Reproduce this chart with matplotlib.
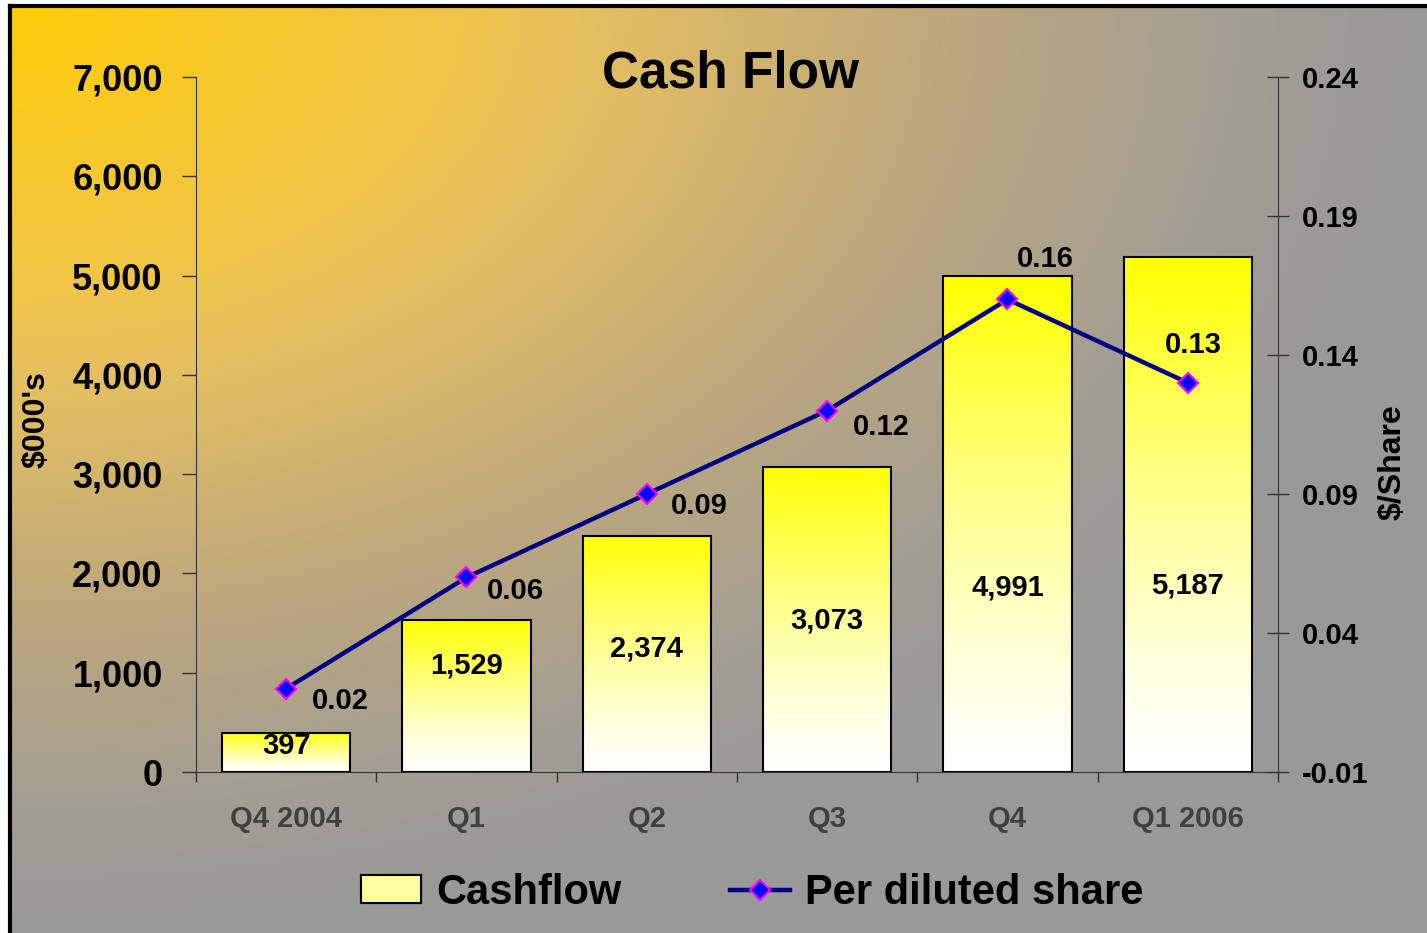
import numpy as np
import matplotlib
matplotlib.use("Agg")
import matplotlib.pyplot as plt
from matplotlib.colors import LinearSegmentedColormap
from matplotlib.patches import Rectangle
from matplotlib.lines import Line2D
from matplotlib.ticker import FuncFormatter

plt.rcParams['font.family'] = ['Liberation Sans', 'DejaVu Sans']
plt.rcParams['font.weight'] = 'bold'

# data
quarters = ['Q4 2004', 'Q1', 'Q2', 'Q3', 'Q4', 'Q1 2006']
cashflow = [397, 1529, 2374, 3073, 4991, 5187]
per_share = [0.02, 0.06, 0.09, 0.12, 0.16, 0.13]

# where the labels sit (bar labels in $000's, line labels as offsets in points)
bar_label_y = [262, 1068, 1239, 1521, 1863, 1883]
share_label_off = [(39, -9), (35, -10), (38, -9), (39, -12), (27, 29), (4, 27)]

W, H = 1427, 933
fig = plt.figure(figsize=(W / 100, H / 100), dpi=100)

# background: yellow in the top left corner fading to grey
bg_cmap = LinearSegmentedColormap.from_list('bg', [
    (0.00, (255/255, 205/255, 10/255)),
    (0.32, (240/255, 196/255, 75/255)),
    (0.40, (230/255, 192/255, 95/255)),
    (0.65, (190/255, 168/255, 125/255)),
    (0.87, (163/255, 158/255, 148/255)),
    (1.00, (153/255, 153/255, 153/255)),
])
gy, gx = np.mgrid[0:1:300j, 0:1:450j]
t = np.clip(np.sqrt(gx**2 + gy**2), 0, 1)
bg = fig.add_axes([0, 0, 1, 1], zorder=-10)
bg.set_axis_off()
bg.set_xlim(0, 1)
bg.set_ylim(0, 1)
x0 = 10 / W
y1 = 1 - 5.5 / H
bg.imshow(t, cmap=bg_cmap, vmin=0, vmax=1, extent=[x0, 1, 0, y1],
          origin='upper', aspect='auto', interpolation='bilinear')
bg.plot([x0, x0], [0, y1], color='black', lw=3, solid_capstyle='projecting')
bg.plot([x0, 1], [y1, y1], color='black', lw=3, solid_capstyle='projecting')

# bar gradient: yellow on top, white at the bottom
s = np.linspace(0, 1, 256)
blue = 1 - s**1.3
bar_grad = np.stack([np.ones_like(s), np.ones_like(s), blue], axis=1)[:, None, :]

ax = fig.add_axes([196 / W, 1 - 772 / H, (1278 - 196) / W, (772 - 77) / H])
ax.set_facecolor('none')
x = np.arange(len(quarters))
bars = ax.bar(x, cashflow, width=0.71, facecolor='none', edgecolor='black',
              lw=1.5, zorder=2)
for b in bars:
    im = ax.imshow(bar_grad, extent=[b.get_x(), b.get_x() + b.get_width(), 0, b.get_height()],
                   origin='lower', aspect='auto', zorder=1.5)
    im.set_clip_path(b)

for i, (v, ly) in enumerate(zip(cashflow, bar_label_y)):
    ax.text(x[i], ly, f'{v:,}', ha='center', va='center', fontsize=21,
            fontweight='bold', zorder=5)

ax.set_xlim(-0.5, len(quarters) - 0.5)
ax.set_ylim(0, 7000)
ax.set_yticks(np.arange(0, 7001, 1000))
ax.yaxis.set_major_formatter(FuncFormatter(lambda v, p: f'{v:,.0f}'))
ax.tick_params(axis='y', length=10, width=1, pad=14, labelsize=26, color='#333333')
ax.set_xticks(np.arange(-0.5, len(quarters), 1))
ax.set_xticklabels([])
ax.tick_params(axis='x', which='major', length=7, width=1, color='#333333')
ax.set_xticks(x, minor=True)
ax.set_xticklabels(quarters, minor=True)
ax.tick_params(axis='x', which='minor', length=0, pad=24, labelsize=21,
               labelcolor='#404040')
for side in ['top', 'right']:
    ax.spines[side].set_visible(False)
for side in ['left', 'bottom']:
    ax.spines[side].set_color('#333333')

ax2 = ax.twinx()
ax2.plot(x, per_share, color='#000080', lw=3.2, marker='D', ms=10,
         mfc='#0000FF', mec='#FF00FF', mew=1.5, zorder=4)
for i, (v, off) in enumerate(zip(per_share, share_label_off)):
    ax2.annotate(f'{v:.2f}', (x[i], v), xytext=off, textcoords='offset points',
                 ha='center', va='center', fontsize=21, fontweight='bold')
ax2.set_ylim(-0.01, 0.24)
ax2.set_yticks(np.arange(-0.01, 0.2401, 0.05))
ax2.yaxis.set_major_formatter(FuncFormatter(lambda v, p: f'{v:.2f}'))
ax2.tick_params(axis='y', direction='inout', length=16, width=1, pad=9,
                labelsize=21, color='#333333')
for side in ['top', 'left', 'bottom']:
    ax2.spines[side].set_visible(False)
ax2.spines['right'].set_color('#333333')

fig.text(730 / W, 1 - 74 / H, 'Cash Flow', ha='center', va='center',
         fontsize=37, fontweight='bold')
fig.text(37 / W, 1 - 420 / H, "$000's", rotation=90, ha='center', va='center',
         fontsize=23, fontweight='bold')
fig.text(1393 / W, 1 - 462 / H, '$/Share', rotation=90, ha='center', va='center',
         fontsize=23, fontweight='bold')

handles = [
    Rectangle((0, 0), 1, 1, facecolor='#ffffa0', edgecolor='black', lw=1.5),
    Line2D([], [], color='#000080', lw=3.2, marker='D', ms=10,
           mfc='#0000FF', mec='#FF00FF', mew=1.5),
]
leg = fig.legend(handles, ['Cashflow', 'Per diluted share'], loc='center',
                 bbox_to_anchor=(0.527, 1 - 893 / H), ncol=2, frameon=False,
                 prop={'size': 30, 'weight': 'bold'}, handlelength=1.45,
                 handletextpad=0.35, columnspacing=2.6, handleheight=0.65)

# put the same yellow-white gradient into the legend box
fig.canvas.draw()
bb = leg.legend_handles[0].get_window_extent().transformed(fig.transFigure.inverted())
lax = fig.add_axes(bb.bounds)
lax.imshow(bar_grad, origin='lower', aspect='auto')
lax.set_xticks([])
lax.set_yticks([])
for sp in lax.spines.values():
    sp.set_linewidth(1.5)
    sp.set_color('black')

fig.savefig('out.png', dpi=100)
